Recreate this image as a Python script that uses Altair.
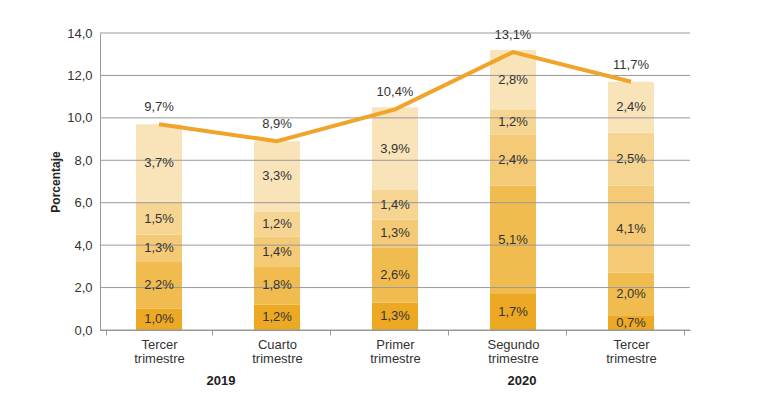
import altair as alt
import pandas as pd

# ---- data ----
periodos = ["Tercer trimestre|2019", "Cuarto trimestre|2019", "Primer trimestre|2020",
            "Segundo trimestre|2020", "Tercer trimestre|2020"]
seg1 = [1.0, 1.2, 1.3, 1.7, 0.7]
seg2 = [2.2, 1.8, 2.6, 5.1, 2.0]
seg3 = [1.3, 1.4, 1.3, 2.4, 4.1]
seg4 = [1.5, 1.2, 1.4, 1.2, 2.5]
seg5 = [3.7, 3.3, 3.9, 2.8, 2.4]
totales = [9.7, 8.9, 10.4, 13.1, 11.7]
anios = ["2019", "2020"]
anio_ancla = ["Tercer trimestre|2019", "Segundo trimestre|2020"]
y_ticks = [0, 2, 4, 6, 8, 10, 12, 14]

componentes = ["c1", "c2", "c3", "c4", "c5"]
colores = ["#EDA923", "#F1BC4F", "#F4CA77", "#F6D593", "#F9E3B9"]

rows = []
for i, p in enumerate(periodos):
    for k, serie in enumerate([seg1, seg2, seg3, seg4, seg5]):
        rows.append({"periodo": p, "componente": componentes[k], "orden": k, "valor": serie[i]})
df = pd.DataFrame(rows)
df_tot = pd.DataFrame({"periodo": periodos, "total": totales})
df_anio = pd.DataFrame({"periodo": anio_ancla, "anio": anios})
df_grid = pd.DataFrame({"v": y_ticks})

xenc = alt.X("periodo:N", sort=periodos, title=None,
             scale=alt.Scale(domain=periodos),
             axis=alt.Axis(labelExpr="split(split(datum.label,'|')[0],' ')",
                           labelAngle=0, labelFontSize=13, labelColor="#333333",
                           labelLineHeight=14, labelPadding=3,
                           tickBand="extent", ticks=True, tickSize=5, tickColor="#999999",
                           domainColor="#999999", grid=False))

yscale = alt.Scale(domain=[0, 14], nice=False)
yaxis = alt.Axis(values=y_ticks, labelExpr="replace(format(datum.value,'.1f'),'.',',')",
                 labelFontSize=13, labelColor="#333333", labelPadding=8, ticks=False,
                 domainColor="#999999", grid=False,
                 title="Porcentaje", titleFontSize=12, titleFontWeight="bold",
                 titleColor="#222222", titlePadding=4)

base = alt.Chart(df)

bars = base.mark_bar(size=46).encode(
    x=xenc,
    y=alt.Y("valor:Q", stack="zero", scale=yscale, axis=yaxis),
    color=alt.Color("componente:N", scale=alt.Scale(domain=componentes, range=colores), legend=None),
    order=alt.Order("orden:Q"),
)

grid = alt.Chart(df_grid).mark_rule(color="#999999", strokeWidth=1).encode(
    y=alt.Y("v:Q", scale=yscale),
)

seg_labels = base.transform_stack(
    stack="valor", as_=["y0", "y1"], groupby=["periodo"], sort=[alt.SortField("orden")]
).transform_calculate(
    mid="(datum.y0 + datum.y1) / 2",
    lab="replace(format(datum.valor,'.1f'),'.',',') + '%'",
).mark_text(fontSize=13, color="#333333", baseline="middle").encode(
    x=alt.X("periodo:N", sort=periodos),
    y=alt.Y("mid:Q", scale=yscale),
    text="lab:N",
)

line = alt.Chart(df_tot).mark_line(color="#F0A42A", strokeWidth=4).encode(
    x=alt.X("periodo:N", sort=periodos),
    y=alt.Y("total:Q", scale=yscale),
)

tot_labels = alt.Chart(df_tot).transform_calculate(
    lab="replace(format(datum.total,'.1f'),'.',',') + '%'"
).mark_text(fontSize=13, color="#333333", baseline="bottom", dy=-10).encode(
    x=alt.X("periodo:N", sort=periodos),
    y=alt.Y("total:Q", scale=yscale),
    text="lab:N",
)

anio_2019 = alt.Chart(df_anio[df_anio.anio == "2019"]).mark_text(
    fontSize=13, fontWeight="bold", color="#222222", baseline="middle", dx=62
).encode(x=alt.X("periodo:N", sort=periodos), y=alt.value(348), text="anio:N")

anio_2020 = alt.Chart(df_anio[df_anio.anio == "2020"]).mark_text(
    fontSize=13, fontWeight="bold", color="#222222", baseline="middle", dx=9
).encode(x=alt.X("periodo:N", sort=periodos), y=alt.value(348), text="anio:N")

chart = alt.layer(bars, grid, seg_labels, line, tot_labels, anio_2019, anio_2020).properties(
    width=590, height=297,
    autosize=alt.AutoSizeParams(type="none"),
    padding={"left": 92, "top": 25, "right": 70, "bottom": 59},
).configure(font="Liberation Sans").configure_view(stroke=None)

chart.save("out.html", embed_options={"renderer": "svg", "actions": False})
